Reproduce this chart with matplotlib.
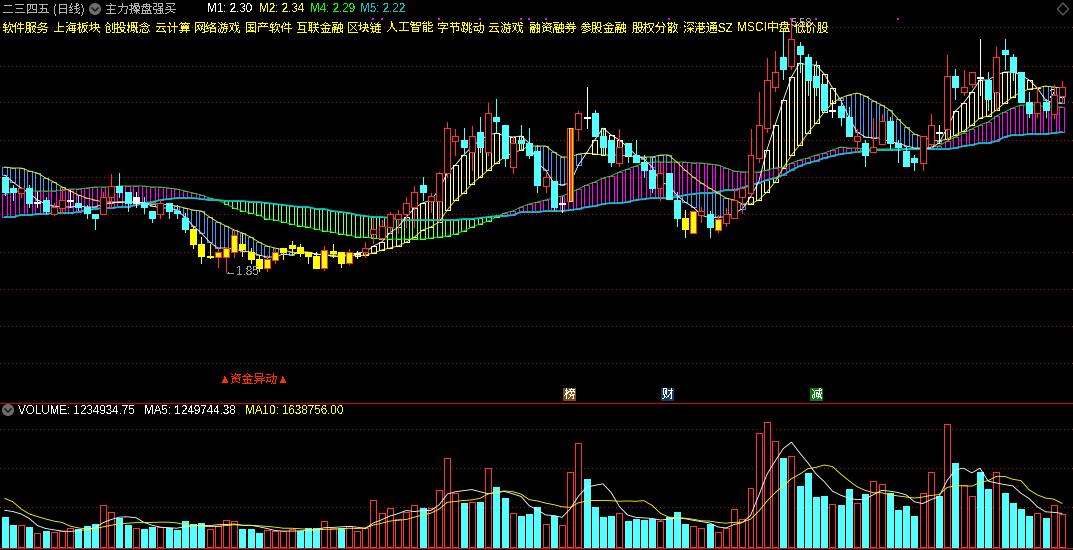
"""Daily candle chart with band overlay and volume pane, dark terminal look."""
import matplotlib

matplotlib.use("Agg")
import matplotlib.pyplot as plt
from matplotlib.patches import Circle, Polygon, Rectangle
import numpy as np

plt.rcParams["font.family"] = ["Liberation Sans", "Noto Sans CJK SC", "DejaVu Sans"]
plt.rcParams["text.antialiased"] = False

# ---------------------------------------------------------------------
# Data, prices in cents, volume in 10k
# ---------------------------------------------------------------------
body_top = [273,262,262,262,248,250,243,250,250,247,243,236,253,264,264,258,253,247,239,247,247,239,232,221,206,194,198,202,215,206,198,191,191,198,202,205,203,198,194,200,199,198,198,197,
            202,221,224,236,236,247,258,265,254,277,322,314,310,314,318,337,333,325,307,310,307,299,273,269,247,322,337,333,337,314,310,303,307,295,288,280,277,277,250,232,239,239,236,231,
            236,250,262,295,325,370,378,393,411,404,393,374,366,340,344,333,314,307,303,329,329,307,299,292,314,325,318,374,374,363,378,373,370,393,400,393,378,348,348,348,355,363]
body_bot = [258,258,257,247,247,239,236,242,249,243,237,232,236,253,258,247,247,243,232,236,239,237,221,206,194,193,193,193,198,201,191,182,182,190,198,202,197,194,182,182,197,187,187,196,
            198,216,212,223,231,236,243,258,249,249,277,309,303,298,303,298,329,292,283,307,295,265,264,243,246,249,321,332,314,303,288,287,295,288,280,262,262,251,232,221,217,235,223,220,
            227,232,253,257,292,322,363,381,384,396,370,363,340,339,333,314,309,295,298,306,307,303,284,288,287,306,317,321,363,358,366,372,351,358,396,378,348,337,337,340,336,354]
high = [273,265,263,265,258,253,247,262,260,255,245,236,258,276,277,258,258,253,239,250,247,245,237,224,213,206,202,202,221,217,202,195,195,202,202,209,206,198,198,204,206,198,201,199,
        208,232,230,238,240,253,264,273,257,278,328,321,322,324,333,347,351,325,313,325,322,305,277,269,253,322,339,363,340,322,310,321,307,310,295,293,287,277,258,240,239,243,239,235,
        242,262,264,321,358,392,399,420,431,408,396,389,366,350,350,343,321,310,332,336,333,310,303,295,314,336,325,395,381,380,378,411,378,403,411,396,378,358,363,351,365,369]
low = [255,250,253,243,243,237,235,237,243,240,232,221,236,243,253,239,243,237,228,232,232,232,218,202,187,192,183,178,193,194,187,179,179,187,191,195,194,187,182,180,193,183,186,192,
       193,207,210,217,217,223,223,250,238,228,273,295,295,280,298,295,317,284,277,300,292,258,258,240,238,249,310,322,314,295,284,284,288,288,273,258,250,251,224,213,217,228,213,218,
       224,232,237,253,288,318,359,371,381,378,355,355,338,333,325,314,298,284,298,306,302,288,284,280,280,302,307,310,351,355,363,355,340,340,381,370,348,333,333,333,332,347]
candle_kind = ("ccrcwcrrwc" "ccrrccwccr" "cccyyyoooy" "yyooyyyyyo" "yyowrrrrrr" "rcrrrrcrcr" "ccrcccrcwb"
               "rwcccrcccc" "rccyorcorr" "rrrrrcrccc" "cwccrcrrcc" "ccrrwrcrrw" "crccccrcrr")

upper_slow = [283,282,282,279,277,272,268,263,259,255,252,250,248,248,248,248,248,247,246,246,245,244,242,240,239,233,228,224,220,217,213,208,204,202,200,198,197,197,196,195,195,195,195,194,
              195,197,200,202,204,208,213,220,223,228,240,250,257,266,273,280,287,293,297,300,304,304,304,298,293,
              293,296,297,296,295,295,295,294,293,293,293,295,295,288,280,273,267,262,
              257,252,250,246,246,250,258,268,282,295,305,317,327,338,347,352,355,357,354,349,345,340,331,323,316,313,310,309,311,315,319,325,332,334,340,347,353,358,361,362,364,363,362]
upper_fast = [275,268,262,257,250,246,244,243,243,244,243,243,246,247,248,248,248,247,244,242,242,240,233,224,217,208,202,202,201,199,198,195,193,193,196,195,198,198,196,195,194,193,195,197,
              198,204,208,217,223,233,242,247,250,260,277,285,295,303,310,315,317,314,313,314,307,287,280,267,265,267,285,297,
              310,322,315,310,303,295,291,283,268,265,255,248,243,235,232,
              233,233,237,241,253,268,300,325,350,373,387,385,385,376,362,350,333,318,313,312,312,308,307,304,302,302,302,307,322,339,347,358,370,370,375,378,378,375,370,362,350,347,347]
lower_green = [256,258,259,259,259,259,259,260,261,261,262,263,263,263,264,264,264,264,263,263,262,261,259,257,255,252,250,246,242,239,237,235,231,230,228,226,224,223,221,219,218,216,215,213,
               213,212,211,211,211,211,211,211,212,213,214,216,219,223,226,229,233,237,239,243,246,248,250,252,254,257,261,265,268,272,274,278,281,284,287,288,288,288,288,288,287,287,286,285,
               282,279,278,278,278,280,282,283,287,290,292,295,297,300,303,302,302,301,301,301,301,301,301,301,301,303,304,309,313,317,321,325,328,334,338,342,345,345,345,343,343,343]
lower_teal = [233,233,235,235,236,236,237,237,237,238,240,241,242,242,243,243,245,247,248,250,251,252,252,252,251,250,250,
              249,249,249,248,248,247,246,245,244,243,243,241,241,239,238,237,235,
              234,233,233,232,231,230,230,230,230,230,230,230,231,231,232,233,234,
              234,235,238,238,238,239,239,239,240,241,243,244,246,247,247,248,250,251,252,252,252,253,255,256,257,257,258,
              260,260,262,265,267,270,272,275,280,284,287,289,292,294,296,297,298,299,300,300,300,300,301,301,301,301,301,301,302,304,305,307,307,309,313,315,315,316,316,316,317,318]
signal_idx = [45, 46, 53, 58, 63, 64, 66, 81, 96, 99, 109]
signal_level = 431
price_grid = [423, 384, 348, 310, 273, 236, 198, 161, 124, 87]

volume = [112,83,82,74,52,60,55,59,71,67,78,87,158,131,110,83,71,68,76,77,72,64,98,87,91,67,78,101,97,68,68,53,63,59,59,67,59,71,71,97,71,71,78,59,
          73,176,127,149,107,131,158,146,146,214,335,203,166,169,170,297,227,185,127,117,125,151,86,117,82,282,392,257,151,113,117,127,98,106,102,105,97,113,132,87,78,71,87,55,
          71,142,105,222,430,471,399,336,343,231,280,189,193,161,159,219,165,200,248,237,204,140,155,117,203,282,193,464,318,233,192,284,219,282,204,166,144,117,127,110,158,123]
volume_kind = ("ccrcrcrrrc" "ccrrccrccr" "cccccrrrrc" "ccrrrrcccr" "rcrrrrrrrr" "rcrrrrcrcr" "ccrcccrcrr"
               "rccccrcccc" "rcccrrcrrr" "rrrrrcrccc" "crccrcrrcc" "ccrrcrcrrc" "crccccrcrr")
volume_ma5 = [139,134,125,108,81,70,65,60,59,62,66,72,92,104,113,114,111,93,82,75,73,71,77,80,82,81,84,85,87,82,82,77,70,62,60,60,61,63,65,73,74,76,78,75,
              70,91,103,117,126,138,134,138,138,159,200,209,213,217,209,201,206,210,201,191,156,141,121,119,112,144,192,226,233,239,206,153,121,112,110,108,102,105,110,107,101,96,91,76,
              72,85,92,119,194,274,325,372,396,356,318,276,247,211,196,184,179,181,198,214,211,206,197,171,164,179,190,252,292,298,280,298,249,242,236,231,203,183,152,133,131,127]
volume_ma10 = [184,171,144,125,115,106,98,93,79,72,68,69,76,82,88,90,92,92,93,94,94,91,85,81,79,77,78,81,84,82,82,80,78,75,71,71,69,67,64,67,67,69,71,70,
               72,83,90,98,101,104,113,121,128,143,169,172,176,178,184,201,208,212,209,200,179,174,166,160,152,150,167,174,176,176,175,173,174,173,175,157,128,113,111,109,105,99,98,93,
               90,93,94,105,135,173,205,232,258,275,296,301,310,304,276,251,228,214,205,205,198,193,189,185,189,195,198,225,232,231,230,244,251,267,267,256,251,216,197,185,181,165]
volume_grid = [151, 298, 445]

# header and label texts
sectors = ["软件服务", "上海板块", "创投概念", "云计算", "网络游戏", "国产软件", "互联金融", "区块链", "人工智能",
           "字节跳动", "云游戏", "融资融券", "参股金融", "股权分散", "深港通SZ", "MSCI中盘", "低价股"]
sector_x = [2, 53, 104, 155, 194, 245, 296, 347, 386, 437, 488, 529, 580, 632, 683, 737, 794]
ma_labels = ["M1: 2.30", "M2: 2.34", "M4: 2.29", "M5: 2.22"]
ma_label_x = [207, 259, 310, 360]
ma_label_colors = ["#FFFFFF", "#FFFF00", "#00FF00", "#00C8C8"]

W, H = 1073, 550
X0, STEP = 4.67, 8.196
SPLIT = 403
BASE_Y = 547
VOL_PER_PX = 3.78

RED = "#FF3232"
CYAN = "#54FFFF"
YELLOW = "#FFFF00"
WHITE = "#FFFFFF"
GRID = "#A01818"
EDGES = {"r": RED, "c": CYAN, "w": WHITE, "y": YELLOW, "o": RED, "b": RED}
FACES = {"r": "#000000", "c": CYAN, "w": WHITE, "y": YELLOW, "o": YELLOW, "b": "#000000"}
ONE_PX = 0.4
THIN = 0.62


def pane(fig, top, bottom):
    """Axes spanning the full width between two pixel rows."""
    ax = fig.add_axes([0, 1 - bottom / H, 1, (bottom - top) / H], facecolor="black")
    ax.set_xlim(-X0 / STEP, (W - X0) / STEP)
    ax.axis("off")
    return ax


def dotted(ax, levels):
    for level in levels:
        ax.axhline(level, color=GRID, lw=0.72, ls=(0, (1, 3.3)), zorder=1, antialiased=False)


def hollow_sticks(ax, x, a, b, mask, color):
    lo = np.minimum(a, b)
    ax.bar(x[mask], np.abs(a - b)[mask], bottom=lo[mask], width=0.6, facecolor="none",
           edgecolor=color, lw=ONE_PX, zorder=2, antialiased=False)


fig = plt.figure(figsize=(W / 100, H / 100), dpi=100, facecolor="black")

# ---------------------------------------------------------------------
# Price pane
# ---------------------------------------------------------------------
ax = pane(fig, 0, SPLIT)
ax.set_ylim(450 - SPLIT, 450)
dotted(ax, price_grid)

idx = np.arange(len(body_top))
slow = np.array(upper_slow)
fast = np.array(upper_fast)
green = np.array(lower_green)
teal = np.array(lower_teal)

hollow_sticks(ax, idx, slow, fast, fast < slow, "#4A96F0")
hollow_sticks(ax, idx, slow, fast, fast >= slow, "#FFFFA8")
hollow_sticks(ax, idx, green, teal, green >= teal, "#FF00FF")
hollow_sticks(ax, idx, green, teal, green < teal, "#80FF60")

ax.plot(idx, lower_green, color="#00FF00", lw=THIN, zorder=3)
ax.plot(idx, lower_teal, color="#00C8C8", lw=1.3, zorder=3)
ax.plot(idx, upper_slow, color=YELLOW, lw=THIN, zorder=3)
ax.plot(idx, upper_fast, color=WHITE, lw=THIN, zorder=3)

# last close tag sits under the candles, only its tail shows at the right edge
ax.text((1049 - X0) / STEP, 355, "2.3", color=WHITE, fontsize=8.6, va="center", zorder=3.5, clip_on=False)

for i, kind in enumerate(candle_kind):
    ax.vlines(i, low[i], high[i], color=EDGES[kind], lw=ONE_PX, zorder=4, antialiased=False)
    ax.bar(i, body_top[i] - body_bot[i], bottom=body_bot[i], width=0.73, facecolor=FACES[kind],
           edgecolor=EDGES[kind], lw=ONE_PX, zorder=5, antialiased=False)
    if kind == "b":
        ax.bar(i, body_top[i] - body_bot[i], bottom=body_bot[i], width=0.32, facecolor=RED,
               edgecolor=YELLOW, lw=ONE_PX, zorder=5.5, antialiased=False)

ax.scatter(signal_idx, [signal_level] * len(signal_idx), marker="s", s=3, color="#FF00FF",
           linewidths=0, zorder=6)

# ---------------------------------------------------------------------
# Volume pane
# ---------------------------------------------------------------------
vax = pane(fig, SPLIT, H)
vax.set_ylim((BASE_Y - H) * VOL_PER_PX, (BASE_Y - SPLIT) * VOL_PER_PX)
dotted(vax, volume_grid)

for i, kind in enumerate(volume_kind):
    vax.bar(i, volume[i], width=0.73, facecolor=FACES[kind], edgecolor=EDGES[kind],
            lw=ONE_PX, zorder=2, antialiased=False)
vax.plot(idx, volume_ma5, color=WHITE, lw=THIN, zorder=3)
vax.plot(idx, volume_ma10, color=YELLOW, lw=THIN, zorder=3)
vax.axhline(-1 * VOL_PER_PX, color="#C01010", lw=0.72, zorder=4)

# ---------------------------------------------------------------------
# Overlay in pixel rows: texts, icons, separators
# ---------------------------------------------------------------------
top = fig.add_axes([0, 0, 1, 1], facecolor="none")
top.set_xlim(0, W)
top.set_ylim(H, 0)
top.axis("off")


def label(x, y, s, color, size=8.6, ha="left"):
    top.text(x, y, s, color=color, fontsize=size, ha=ha, va="center")


top.axhline(402.7, color="#B01010", lw=0.9)

label(2, 9.5, "二三四五 (日线)", "#B4B4B4")
label(105, 9.5, "主力操盘强买", "#B4B4B4")
for x, s, c in zip(ma_label_x, ma_labels, ma_label_colors):
    label(x, 9, s, c, size=8.4)
for x, s in zip(sector_x, sectors):
    label(x, 28.5, s, YELLOW)

for cx, cy in [(95, 9), (8, 410)]:
    top.add_patch(Circle((cx, cy), 6, facecolor="#6E6E6E", edgecolor="none"))
    top.plot([cx - 3, cx, cx + 3], [cy - 1, cy + 2, cy - 1], color="#1E1E1E", lw=1.2)

top.add_patch(Polygon([(1063, 3), (1068.5, 9), (1063, 15), (1057.5, 9)], closed=True,
                      facecolor="none", edgecolor="#5A5A5A", lw=1))

label(225, 272, "←1.85", "#A0A0A0")
label(791, 23, "5.58", "#A0A0A0", size=8)
label(254, 380, "▲资金异动▲", "#FF3000", ha="center")

for cx, s, bg in [(569.5, "榜", "#7A4A10"), (667.5, "财", "#103A6A"), (816.5, "减", "#0A7A10")]:
    top.add_patch(Rectangle((cx - 6.5, 388), 13, 13, facecolor=bg, edgecolor="none"))
    label(cx, 394.5, s, WHITE, size=8.6, ha="center")

label(18, 410.5, "VOLUME: 1234934.75", WHITE, size=8.4)
label(144, 410.5, "MA5: 1249744.38", WHITE, size=8.4)
label(245, 410.5, "MA10: 1638756.00", YELLOW, size=8.4)

fig.savefig("out.png", dpi=100, facecolor="black")
